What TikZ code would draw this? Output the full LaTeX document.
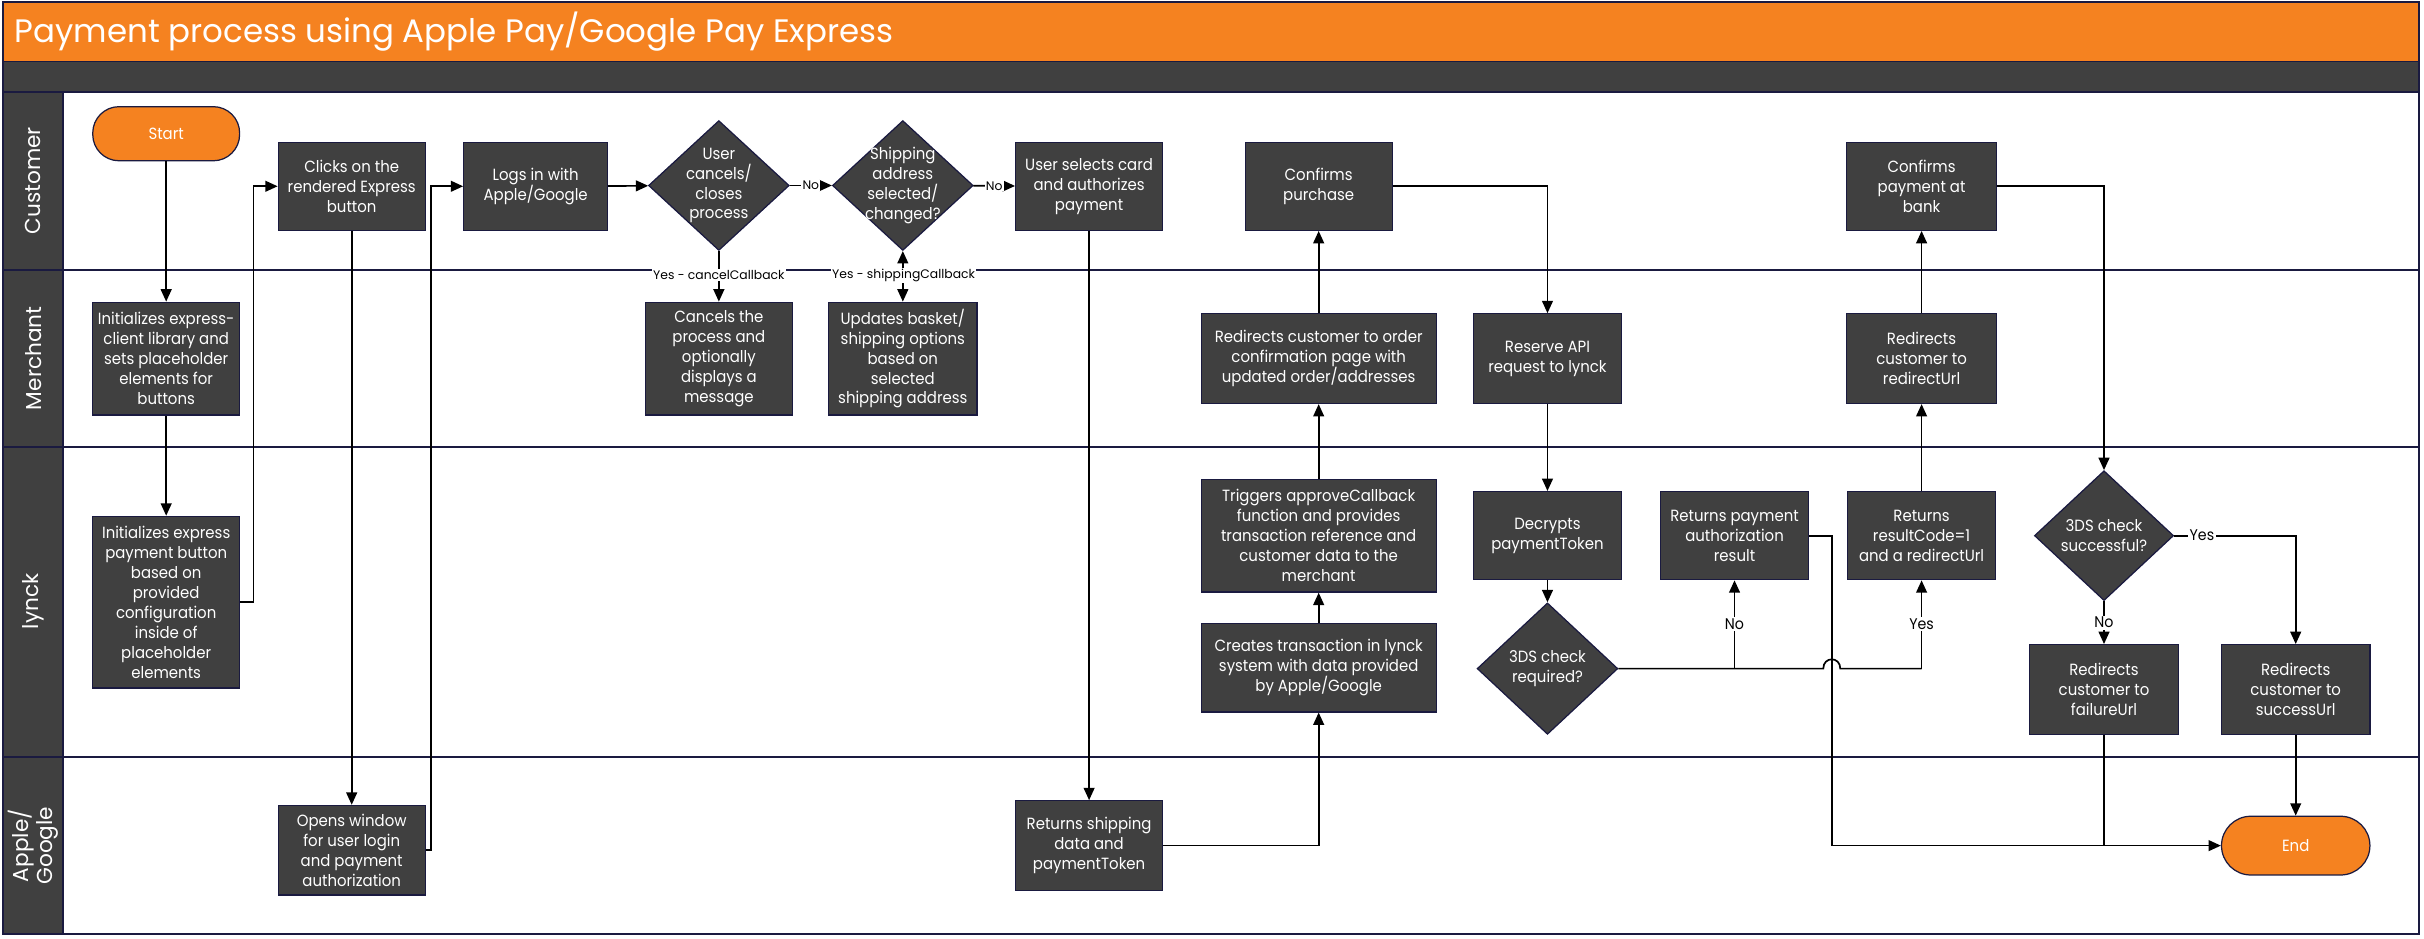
\documentclass[tikz,border=0pt]{standalone}
\usepackage{fontspec}
\setmainfont{Poppins}
\newfontfamily\bxfont[FakeStretch=0.92]{Poppins}
\usetikzlibrary{shapes.geometric,arrows.meta}
\definecolor{boxgray}{HTML}{404040}
\definecolor{navy}{HTML}{1A1A40}
\definecolor{orng}{HTML}{F58220}
\begin{document}
\begin{tikzpicture}[x=1pt,y=-1pt,
  lane/.style={draw=navy, line width=1.3pt},
  proc/.style={draw=navy, line width=0.8pt, fill=boxgray, text=white, font=\bxfont\fontsize{10.5}{12.9}\selectfont, align=center, inner sep=0pt},
  term/.style={proc, fill=orng},
  dia/.style={diamond, draw=navy, line width=0.8pt, fill=boxgray, inner sep=0pt},
  dtext/.style={text=white, font=\bxfont\fontsize{10.5}{12.9}\selectfont, align=center, inner sep=0pt},
  con/.style={line width=1.1pt, draw=black},
  arr/.style={con, -{Triangle[length=8pt,width=7pt]}},
  darr/.style={con, {Triangle[length=8pt,width=7pt]}-{Triangle[length=8pt,width=7pt]}},
  lbl/.style={fill=white, inner sep=0.8pt, text=black, font=\fontsize{8}{9}\selectfont},
  lbb/.style={fill=white, inner sep=1pt, text=black, font=\bxfont\fontsize{10}{11}\selectfont},
  lanetxt/.style={rotate=90, text=white, font=\fontsize{14}{16}\selectfont, align=center}
]
\useasboundingbox (0,0) rectangle (1568,607);
\fill[white] (0,0) rectangle (1568,607);
% title and lanes
\draw[navy, line width=1pt, fill=orng] (2,1) rectangle (1565,40);
\fill[boxgray] (2,40) rectangle (1565,59.5);
\fill[boxgray] (2,59.5) rectangle (41,604);
\draw[lane] (2,59.5) -- (1565,59.5);
\draw[lane] (2,174.5) -- (1565,174.5);
\draw[lane] (2,289) -- (1565,289);
\draw[lane] (2,489.5) -- (1565,489.5);
\draw[lane] (41,59.5) -- (41,604);
\draw[lane] (2,1) rectangle (1565,604);
\node[anchor=west, text=white, font=\fontsize{21}{25}\selectfont] (title) at (6,20.5) {Payment process using Apple Pay/Google Pay Express};
\node[lanetxt] (lc) at (21.5,117) {Customer};
\node[lanetxt] (lm) at (21.5,231.75) {Merchant};
\node[lanetxt] (ll) at (21.5,389) {lynck};
\node[lanetxt] (la) at (21.5,547) {Apple/\\Google};

% Customer lane
\node[term, minimum width=95pt, minimum height=35pt, rounded corners=17pt] (start) at (107.5,86.5) {Start};
\node[proc, minimum width=95pt, minimum height=57pt] (clicks) at (227.5,120.5) {Clicks on the\\rendered Express\\button};
\node[proc, minimum width=93pt, minimum height=57pt] (logs) at (346.5,120.5) {Logs in with\\Apple/Google};
\node[dia, minimum width=91pt, minimum height=84pt] (d1) at (465,120) {};
\node[dtext] (d1t) at (d1) {User\\cancels/\\closes\\process};
\node[dia, minimum width=91pt, minimum height=84pt] (d2) at (584,120) {};
\node[dtext] (d2t) at (d2) {Shipping\\address\\selected/\\changed?};
\node[proc, minimum width=95pt, minimum height=57pt] (select) at (704.5,120.5) {User selects card\\and authorizes\\payment};
\node[proc, minimum width=95pt, minimum height=57pt] (confpur) at (853,120.5) {Confirms\\purchase};
\node[proc, minimum width=97pt, minimum height=57pt] (confbank) at (1243,120.5) {Confirms\\payment at\\bank};

% Merchant lane
\node[proc, minimum width=95pt, minimum height=73pt] (lib1) at (107.5,232) {Initializes express-\\client library and\\sets placeholder\\elements for\\buttons};
\node[proc, minimum width=95pt, minimum height=73pt] (cancel) at (465,232) {Cancels the\\process and\\optionally\\displays a\\message};
\node[proc, minimum width=96pt, minimum height=73pt] (updates) at (584,232) {Updates basket/\\shipping options\\based on\\selected\\shipping address};
\node[proc, minimum width=152pt, minimum height=58pt] (redirorder) at (853,232) {Redirects customer to order\\confirmation page with\\updated order/addresses};
\node[proc, minimum width=96pt, minimum height=58pt] (reserve) at (1001,232) {Reserve API\\request to lynck};
\node[proc, minimum width=97pt, minimum height=58pt] (rediru) at (1243,232) {Redirects\\customer to\\redirectUrl};

% lynck lane
\node[proc, minimum width=95pt, minimum height=111pt] (lib2) at (107.5,389.5) {Initializes express\\payment button\\based on\\provided\\configuration\\inside of\\placeholder\\elements};
\node[proc, minimum width=152pt, minimum height=73pt] (triggers) at (853,346.5) {Triggers approveCallback\\function and provides\\transaction reference and\\customer data to the\\merchant};
\node[proc, minimum width=152pt, minimum height=57pt] (creates) at (853,432) {Creates transaction in lynck\\system with data provided\\by Apple/Google};
\node[proc, minimum width=96pt, minimum height=57pt] (decrypts) at (1001,346.5) {Decrypts\\paymentToken};
\node[dia, minimum width=91pt, minimum height=85pt] (d3) at (1001,432.5) {};
\node[dtext] (d3t) at (d3) {3DS check\\required?};
\node[proc, minimum width=96pt, minimum height=57pt] (retauth) at (1122,346.5) {Returns payment\\authorization\\result};
\node[proc, minimum width=96pt, minimum height=57pt] (retcode) at (1243,346.5) {Returns\\resultCode=1\\and a redirectUrl};
\node[dia, minimum width=90pt, minimum height=84pt] (d4) at (1361,346.5) {};
\node[dtext] (d4t) at (d4) {3DS check\\successful?};
\node[proc, minimum width=96pt, minimum height=58pt] (fail) at (1361,446) {Redirects\\customer to\\failureUrl};
\node[proc, minimum width=96pt, minimum height=58pt] (succ) at (1485,446) {Redirects\\customer to\\successUrl};

% Apple/Google lane
\node[proc, minimum width=95pt, minimum height=58pt] (opens) at (227.5,550) {Opens window\\for user login\\and payment\\authorization};
\node[proc, minimum width=95pt, minimum height=58pt] (retship) at (704.5,547) {Returns shipping\\data and\\paymentToken};
\node[term, minimum width=96pt, minimum height=38pt, rounded corners=19pt] (endn) at (1485,547) {End};

% connectors
\draw[arr] (start) -- (lib1);
\draw[arr] (lib1) -- (lib2);
\draw[arr] (lib2.east) -- ++(8.6,0) |- (clicks.west);
\draw[arr] (clicks) -- (opens);
\draw[arr] (opens.east) -- ++(3.6,0) |- (logs.west);
\draw[arr] (logs) -- (d1);
\draw[arr] (d1) -- node[lbl] (no1) {No} (d2);
\draw[arr] (d2) -- node[lbl] (no2) {No} (select);
\draw[arr] (d1) -- (cancel);
\draw[darr] (d2) -- (updates);
\draw[arr] (select) -- (retship);
\draw[arr] (retship.east) -| (creates.south);
\draw[arr] (creates) -- (triggers);
\draw[arr] (triggers) -- (redirorder);
\draw[arr] (redirorder) -- (confpur);
\draw[arr] (confpur.east) -| (reserve.north);
\draw[arr] (reserve) -- (decrypts);
\draw[arr] (decrypts) -- (d3);
\coordinate (vx) at ([xshift=14.5pt]retauth.east);
\coordinate (ja) at (retauth.south |- d3.east);
\coordinate (jb) at (retcode.south |- d3.east);
\coordinate (h1) at ([xshift=-5.5pt]vx |- d3.east);
\coordinate (h2) at ([xshift=5.5pt]vx |- d3.east);
\draw[con] (d3.east) -- (h1) .. controls ([yshift=8pt]h1) and ([yshift=8pt]h2) .. (h2) -- (jb);
\draw[arr] (ja) -- node[lbb] (no3) {No} (retauth.south);
\draw[arr] (jb) -- node[lbb] (yes3) {Yes} (retcode.south);
\draw[arr] (retauth.east) -- (vx) |- (endn.west);
\draw[con] (fail.south) -- (fail.south |- endn.west);
\draw[arr] (retcode) -- (rediru);
\draw[arr] (rediru) -- (confbank);
\draw[arr] (confbank.east) -| (d4.north);
\draw[arr] (d4.east) -| node[lbb, pos=0.114] (yes4) {Yes} (succ.north);
\draw[arr] (d4.south) -- node[lbb] (no4) {No} (fail.north);
\draw[arr] (succ) -- (endn);
% labels on lane boundary
\node[lbl] (ycancel) at (465,178) {Yes - cancelCallback};
\node[lbl] (yship) at (584.5,178) {Yes - shippingCallback};
\end{tikzpicture}
\end{document}
